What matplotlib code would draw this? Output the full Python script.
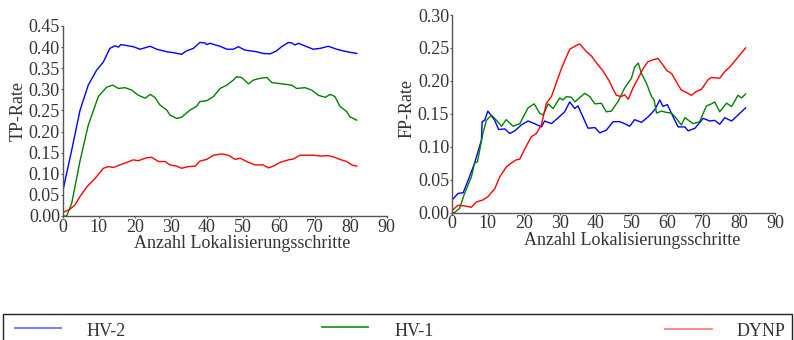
import matplotlib
matplotlib.use("Agg")
import matplotlib.pyplot as plt
from matplotlib.lines import Line2D
from matplotlib.patches import Rectangle

plt.rcParams['font.family'] = ['Liberation Serif', 'DejaVu Serif']

# ---- TP-Rate data ----
tp_hv2_x = [0, 2.5, 4.8, 7.1, 9.4, 11.3, 13.1, 14.5, 15.5, 16.1, 19.6, 21.5, 24.3, 26.1, 28.9, 30.7, 33, 34.4, 36.3, 38.1, 39.5, 40, 40.9, 43.7, 45.6, 47.4, 48.8, 50.6, 53.9, 55.7, 57.6, 59.4, 60.8, 62.7, 63.6, 64.5, 65.5, 67.8, 69.6, 71.5, 73.8, 76.1, 77.9, 80.3, 81.7]
tp_hv2_y = [0.058, 0.156, 0.25, 0.31, 0.345, 0.365, 0.397, 0.403, 0.40, 0.406, 0.401, 0.395, 0.402, 0.395, 0.389, 0.387, 0.383, 0.391, 0.397, 0.411, 0.41, 0.406, 0.409, 0.402, 0.395, 0.395, 0.401, 0.393, 0.389, 0.385, 0.384, 0.391, 0.401, 0.411, 0.41, 0.405, 0.409, 0.401, 0.395, 0.397, 0.402, 0.395, 0.391, 0.387, 0.385]

tp_hv1_x = [0, 1.1, 2.5, 4.8, 7.1, 9.9, 12.2, 13.9, 15.5, 17.3, 19.2, 21, 22.9, 24.3, 25.6, 27, 28.9, 29.8, 31.7, 33, 35.4, 37.2, 38.1, 40, 41.9, 43.7, 45.6, 47.4, 48.3, 49.7, 51.6, 53, 54.8, 56.7, 58.1, 59.9, 61.8, 63.6, 65, 67.3, 69.2, 71, 72.9, 74.3, 75.6, 77, 78.9, 79.8, 81.7]
tp_hv1_y = [0.0, 0.0, 0.03, 0.13, 0.215, 0.283, 0.305, 0.31, 0.302, 0.304, 0.298, 0.286, 0.279, 0.288, 0.281, 0.263, 0.251, 0.239, 0.231, 0.234, 0.251, 0.26, 0.271, 0.273, 0.283, 0.302, 0.31, 0.322, 0.33, 0.328, 0.313, 0.322, 0.326, 0.328, 0.316, 0.314, 0.312, 0.31, 0.302, 0.304, 0.298, 0.286, 0.281, 0.288, 0.283, 0.26, 0.247, 0.235, 0.227]

tp_dynp_x = [0, 2, 3.4, 4.8, 6.7, 9, 11.3, 12.7, 14.1, 15.9, 17.8, 19.6, 21, 23.3, 24.7, 26.6, 28.4, 29.8, 31.7, 33, 34.9, 36.8, 38.1, 40, 41.9, 44.2, 46, 47.9, 49.3, 51.1, 53.4, 55.7, 57.1, 58.5, 60.4, 62.7, 64.1, 65.9, 67.8, 69.6, 71.5, 73.8, 75.2, 77, 78.9, 80.3, 81.7]
tp_dynp_y = [0.008, 0.016, 0.026, 0.046, 0.069, 0.089, 0.113, 0.117, 0.115, 0.121, 0.127, 0.133, 0.131, 0.138, 0.139, 0.129, 0.129, 0.121, 0.118, 0.113, 0.117, 0.118, 0.13, 0.134, 0.144, 0.147, 0.144, 0.134, 0.137, 0.129, 0.121, 0.121, 0.114, 0.118, 0.127, 0.133, 0.135, 0.144, 0.144, 0.144, 0.142, 0.143, 0.14, 0.134, 0.129, 0.121, 0.118]

# ---- FP-Rate data ----
fp_hv2_x = [0, 1.7, 3.1, 4.5, 6.3, 8.2, 8.4, 9.1, 10, 11.9, 13, 14.7, 16.1, 17.5, 19.3, 21.2, 23, 24.9, 25.8, 27.7, 29.6, 31.4, 32.8, 34.2, 35.1, 36.5, 37.9, 39.8, 41.2, 43, 44.9, 46.7, 48.1, 49.5, 50.9, 52.8, 54.6, 56.5, 57.9, 58.8, 60, 61.2, 63, 64.9, 65.8, 67.7, 70, 71.8, 73.2, 74.6, 76, 77.9, 79.7, 81.8]
fp_hv2_y = [0.019, 0.029, 0.030, 0.049, 0.075, 0.11, 0.138, 0.14, 0.154, 0.14, 0.126, 0.127, 0.12, 0.124, 0.133, 0.139, 0.135, 0.13, 0.139, 0.135, 0.144, 0.153, 0.168, 0.158, 0.162, 0.145, 0.128, 0.129, 0.121, 0.125, 0.138, 0.138, 0.135, 0.131, 0.141, 0.137, 0.145, 0.156, 0.171, 0.161, 0.164, 0.15, 0.13, 0.13, 0.124, 0.128, 0.143, 0.139, 0.14, 0.134, 0.144, 0.139, 0.148, 0.159]

fp_hv1_x = [0, 0.7, 2.1, 3.5, 5.4, 6.3, 7.1, 8.6, 9.6, 11, 12.4, 13.8, 15.1, 17, 18.9, 21.2, 22.9, 24.4, 25.4, 26.8, 28.2, 30, 30.9, 31.9, 33.3, 34.2, 37, 38.4, 39.8, 41.6, 43, 44.4, 46.3, 48.1, 50, 50.9, 51.9, 52.8, 54.2, 55.6, 56.3, 57, 58.4, 59.8, 61.2, 62.5, 63.9, 64.9, 67.2, 69, 70.9, 72.3, 73.2, 74.6, 76.5, 77.9, 79.7, 80.7, 81.8]
fp_hv1_y = [0.0, 0.0, 0.006, 0.029, 0.054, 0.075, 0.077, 0.12, 0.14, 0.148, 0.14, 0.131, 0.141, 0.131, 0.135, 0.159, 0.165, 0.151, 0.148, 0.165, 0.158, 0.174, 0.171, 0.176, 0.175, 0.168, 0.181, 0.176, 0.165, 0.166, 0.153, 0.154, 0.169, 0.189, 0.204, 0.221, 0.227, 0.211, 0.196, 0.176, 0.171, 0.151, 0.154, 0.152, 0.151, 0.143, 0.133, 0.144, 0.135, 0.138, 0.162, 0.165, 0.168, 0.153, 0.166, 0.161, 0.178, 0.174, 0.18]

fp_dynp_x = [0, 1.7, 3.5, 5.4, 6.8, 8.6, 10, 11.9, 13.3, 15.1, 16.5, 17.9, 18.9, 20.3, 22.1, 23.5, 24.9, 26.3, 27.7, 30.5, 32.8, 34.7, 35.6, 37.5, 38.8, 40.7, 42.1, 43.9, 44.9, 45.8, 47.2, 48.1, 49.1, 50.5, 51.9, 53.3, 54.6, 56, 57.4, 58.4, 59.8, 61.2, 63, 63.9, 65.8, 66.7, 68.1, 69.5, 71.4, 72.3, 74.6, 76, 77.4, 79.7, 81.8]
fp_dynp_y = [0.003, 0.011, 0.01, 0.008, 0.016, 0.019, 0.024, 0.036, 0.054, 0.069, 0.075, 0.08, 0.081, 0.097, 0.115, 0.12, 0.133, 0.166, 0.176, 0.219, 0.248, 0.254, 0.256, 0.244, 0.238, 0.224, 0.215, 0.199, 0.187, 0.178, 0.176, 0.179, 0.172, 0.19, 0.204, 0.219, 0.229, 0.232, 0.234, 0.227, 0.216, 0.211, 0.194, 0.186, 0.181, 0.178, 0.184, 0.187, 0.202, 0.205, 0.204, 0.214, 0.221, 0.236, 0.25]

x_ticks = [0, 10, 20, 30, 40, 50, 60, 70, 80, 90]
tp_ticks = [0.00, 0.05, 0.10, 0.15, 0.20, 0.25, 0.30, 0.35, 0.40, 0.45]
fp_ticks = [0.00, 0.05, 0.10, 0.15, 0.20, 0.25, 0.30]
series_names = ["HV-2", "HV-1", "DYNP"]

BLUE = "#0000ff"
GREEN = "#008000"
RED = "#ff0000"
TXT = "#333333"
SPINE = "#555555"
FS = 13

fig = plt.figure(figsize=(7.94, 3.40), dpi=100)
W, H = 794, 340

def axes_px(x0, x1, ytop, ybot):
    return fig.add_axes([x0 / W, 1 - ybot / H, (x1 - x0) / W, (ybot - ytop) / H])

ax1 = axes_px(62.7, 386.7, 26, 216)
ax2 = axes_px(452, 775, 15, 212.5)

def style(ax, yticks, ylabel, lab_x, lab_xy, lab_yx, lab_y):
    ax.set_xlim(0, 90)
    ax.set_ylim(0, yticks[-1])
    ax.set_xticks(x_ticks)
    ax.set_yticks(yticks)
    ax.set_yticklabels(["%.2f" % v for v in yticks])
    for s in ["top", "right"]:
        ax.spines[s].set_visible(False)
    for s in ["left", "bottom"]:
        ax.spines[s].set_color(SPINE)
        ax.spines[s].set_linewidth(1.0)
    ax.tick_params(axis="both", length=1.5, width=0.8, color=SPINE, labelsize=FS, labelcolor=TXT, pad=0.5)
    ax.set_xlabel("Anzahl Lokalisierungsschritte", fontsize=FS, color=TXT, va="top")
    ax.xaxis.set_label_coords(lab_x, lab_xy)
    ax.set_ylabel(ylabel, fontsize=FS, color=TXT)
    ax.yaxis.set_label_coords(lab_yx, lab_y)

ax1.plot(tp_hv2_x, tp_hv2_y, color=BLUE, lw=1.0)
ax1.plot(tp_hv1_x, tp_hv1_y, color=GREEN, lw=1.0)
ax1.plot(tp_dynp_x, tp_dynp_y, color=RED, lw=1.0)
style(ax1, tp_ticks, "TP-Rate", 0.555, -0.098, -0.112, 0.553)

ax2.plot(fp_hv2_x, fp_hv2_y, color=BLUE, lw=1.0)
ax2.plot(fp_hv1_x, fp_hv1_y, color=GREEN, lw=1.0)
ax2.plot(fp_dynp_x, fp_dynp_y, color=RED, lw=1.0)
style(ax2, fp_ticks, "FP-Rate", 0.557, -0.101, -0.112, 0.529)

# legend box (manual)
fig.add_artist(Rectangle((3.3 / W, -0.05), (792 - 3.3) / W, 1 - 314.3 / H + 0.05,
                         transform=fig.transFigure, fill=False, edgecolor="#222222", lw=1.0))
leg_colors = ["#7070ff", "#229922", "#ff8080"]
leg_line = [(15, 61, 327.7), (322, 368, 327), (665, 712, 329)]
leg_text = [87, 395, 737]
for name, c, (a, b, yy), tx in zip(series_names, leg_colors, leg_line, leg_text):
    fig.add_artist(Line2D([a / W, b / W], [1 - yy / H, 1 - yy / H], transform=fig.transFigure, color=c, lw=1.3))
    fig.text(tx / W, 1 - 331.5 / H, name, fontsize=FS, color=TXT, va="center", ha="left")

fig.savefig("out.png", dpi=100)
